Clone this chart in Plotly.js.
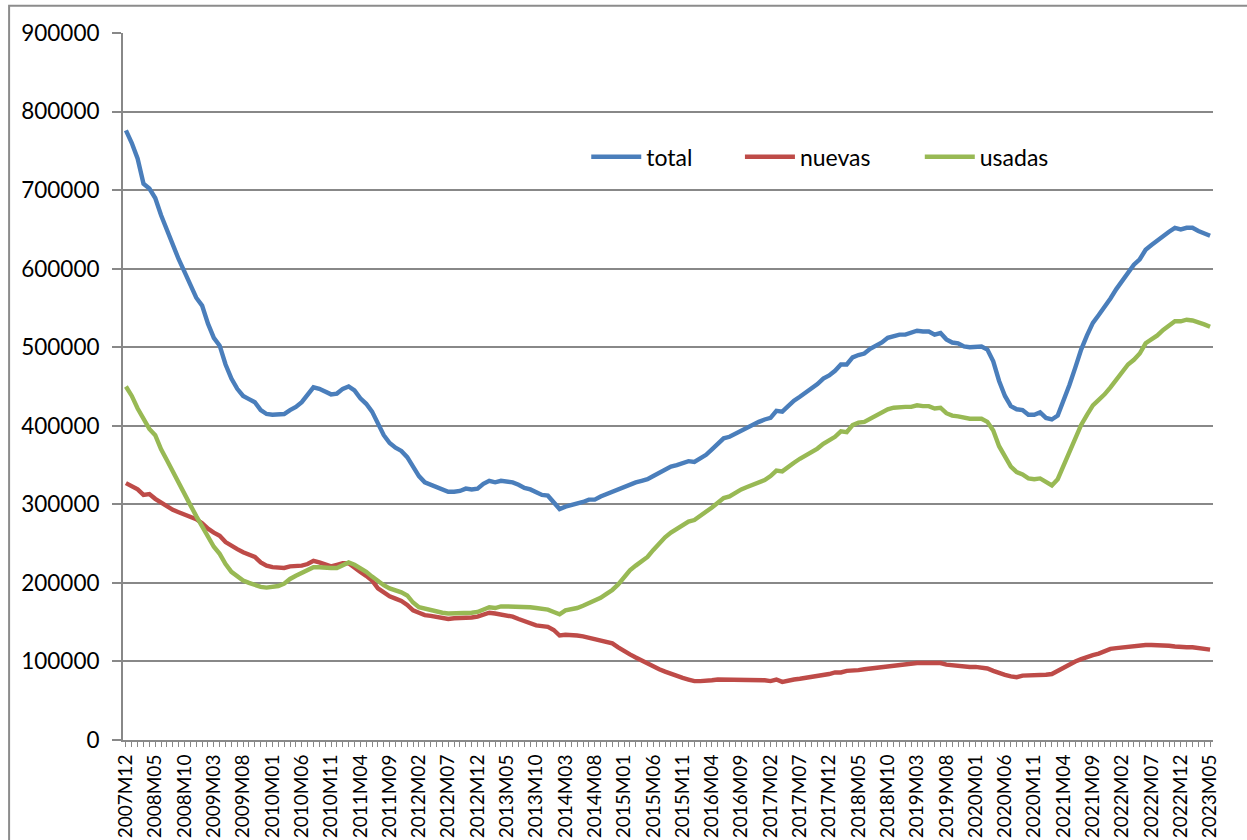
<!DOCTYPE html>
<html>
<head>
<meta charset="utf-8">
<script src="https://cdn.plot.ly/plotly-3.0.1.min.js"></script>
<style>
  html, body { margin: 0; padding: 0; background: #ffffff; }
  #chart { width: 1247px; height: 840px; }
</style>
</head>
<body>
<div id="chart"></div>
<script>
// Monthly categories 2007M12 .. 2023M05
const firstYear = 2007, firstMonth = 12, lastYear = 2023, lastMonth = 5;
const categories = [];
for (let y = firstYear, m = firstMonth; y < lastYear || (y === lastYear && m <= lastMonth); ) {
  categories.push(y + 'M' + (m < 10 ? '0' + m : '' + m));
  m++; if (m > 12) { m = 1; y++; }
}

const total = [
776000,760000,740000,708000,702000,690000,668000,648000,630000,612000,
596000,580000,563000,553000,530000,512000,502000,478000,460000,447000,
438000,434000,430000,420000,415000,414000,414000,415000,420000,424000,
430000,440000,449000,447000,443000,440000,441000,447000,450000,445000,
435000,428000,418000,403000,388000,378000,372000,368000,360000,348000,
336000,328000,325000,321000,318000,316000,316000,317000,320000,319000,
320000,326000,330000,328000,330000,329000,328000,325000,321000,319000,
316000,312000,311000,303000,294000,297000,299000,300000,303000,306000,
306000,310000,313000,316000,319000,322000,326000,328000,330000,332000,
336000,340000,345000,348000,350000,353000,355000,354000,358000,363000,
370000,377000,384000,386000,390000,394000,397000,401000,405000,408000,
410000,419000,418000,425000,432000,437000,442000,447000,453000,460000,
464000,470000,478000,478000,487000,490000,492000,498000,502000,506000,
512000,514000,516000,516000,518000,521000,520000,520000,516000,518000,
510000,506000,505000,501000,500000,500000,501000,497000,482000,457000,
438000,425000,421000,420000,414000,414000,417000,410000,408000,413000,
432000,452000,474000,497000,515000,531000,541000,551000,562000,574000,
585000,596000,605000,612000,624000,630000,636000,642000,647000,652000,
650000,652000,652000,648000,645000,642000
];

const nuevas = [
327000,323000,319000,312000,313000,307000,302000,298000,293000,290000,
287000,285000,281000,276000,269000,264000,260000,252000,247000,243000,
239000,236000,233000,226000,222000,220000,219000,219000,221000,221000,
222000,224000,228000,226000,223000,221000,223000,225000,225000,219000,
214000,209000,203000,193000,188000,183000,180000,177000,172000,165000,
162000,159000,158000,157000,155000,154000,155000,155000,156000,156000,
157000,160000,162000,161000,160000,159000,157000,154000,151000,149000,
146000,145000,144000,140000,133000,134000,134000,133000,132000,130000,
128000,127000,125000,123000,118000,113000,109000,105000,101000,97000,
93000,90000,87000,84000,81000,79000,77000,75000,75000,75000,
76000,77000,77000,76000,76000,76000,76000,76000,77000,76000,
75000,77000,74000,76000,77000,78000,79000,80000,82000,83000,
84000,86000,86000,88000,88000,89000,90000,91000,92000,93000,
94000,95000,96000,96000,97000,98000,98000,98000,97000,98000,
96000,95000,94000,94000,93000,93000,92000,91000,88000,85000,
83000,81000,80000,82000,82000,82000,83000,83000,84000,88000,
93000,97000,100000,103000,106000,108000,110000,113000,116000,117000,
118000,119000,120000,120000,121000,121000,121000,120000,120000,119000,
118000,118000,118000,117000,116000,115000
];

const usadas = [
450000,438000,422000,408000,396000,388000,370000,356000,341000,328000,
313000,299000,285000,272000,258000,246000,237000,224000,214000,208000,
203000,200000,197000,195000,194000,195000,196000,199000,205000,209000,
213000,216000,220000,220000,219000,219000,219000,223000,226000,223000,
219000,214000,208000,202000,197000,193000,191000,188000,184000,175000,
169000,167000,165000,163000,162000,161000,161000,162000,162000,162000,
163000,166000,169000,168000,170000,170000,170000,170000,170000,169000,
168000,167000,166000,163000,160000,165000,166000,168000,171000,174000,
177000,181000,186000,191000,198000,207000,216000,222000,228000,233000,
242000,251000,258000,264000,269000,274000,278000,280000,285000,290000,
296000,302000,308000,310000,315000,319000,322000,325000,329000,331000,
336000,343000,342000,348000,353000,358000,362000,366000,371000,377000,
381000,386000,393000,392000,401000,404000,405000,409000,413000,416000,
421000,423000,424000,424000,424000,426000,425000,425000,422000,423000,
416000,413000,412000,410000,409000,409000,409000,405000,394000,374000,
360000,348000,341000,338000,333000,332000,333000,328000,324000,332000,
349000,365000,385000,401000,414000,426000,433000,440000,449000,459000,
469000,478000,484000,492000,505000,510000,515000,522000,527000,533000,
533000,535000,534000,532000,529000,526000
];

const seriesNames = ['total', 'nuevas', 'usadas'];
const seriesColors = ['#4A7EBB', '#BE4B48', '#98B954'];
const legendIds = ['legend', 'legend2', 'legend3'];
const yTickVals = [0,100000,200000,300000,400000,500000,600000,700000,800000,900000];

// x tick labels: every 5th category, tick marks at every category
const xTickText = categories.map((c, i) => (i % 5 === 0 ? c : ''));

const FONT = 'Lato, "Open Sans", "Liberation Sans", sans-serif';
const GRID = '#888888';

const traces = [total, nuevas, usadas].map((vals, k) => ({
  type: 'scatter',
  mode: 'lines',
  name: seriesNames[k],
  legend: legendIds[k],
  x: categories,
  y: vals,
  line: { color: seriesColors[k], width: 4.4 },
  hoverinfo: 'x+y+name'
}));

function legendAt(xpos) {
  return {
    orientation: 'h',
    x: xpos, xanchor: 'left',
    y: 0.825, yanchor: 'middle',
    font: { family: FONT, size: 23, color: '#000000' },
    bgcolor: 'rgba(0,0,0,0)',
    itemwidth: 50
  };
}

const layout = {
  width: 1247,
  height: 840,
  margin: { l: 123, r: 34, t: 33, b: 100 },
  paper_bgcolor: '#ffffff',
  plot_bgcolor: '#ffffff',
  font: { family: FONT, color: '#000000', size: 19 },
  showlegend: true,
  legend: legendAt(0.425),
  legend2: legendAt(0.566),
  legend3: legendAt(0.731),
  xaxis: {
    type: 'category',
    range: [-0.5, categories.length - 0.5],
    tickmode: 'array',
    tickvals: categories,
    ticktext: xTickText,
    tickangle: -90,
    ticks: 'outside',
    ticklen: 5,
    tickwidth: 1,
    tickcolor: GRID,
    showline: true,
    linecolor: GRID,
    linewidth: 2,
    showgrid: false,
    zeroline: false,
    tickfont: { family: FONT, size: 19, color: '#000000' },
    fixedrange: true
  },
  yaxis: {
    range: [0, 900000],
    tickmode: 'array',
    tickvals: yTickVals,
    ticktext: yTickVals.map(v => String(v)),
    ticks: 'outside',
    ticklen: 9,
    tickwidth: 2,
    tickcolor: GRID,
    showline: true,
    linecolor: GRID,
    linewidth: 2,
    showgrid: true,
    gridcolor: GRID,
    gridwidth: 2,
    zeroline: false,
    ticklabelstandoff: 8,
    tickfont: { family: FONT, size: 22.5, color: '#000000' },
    fixedrange: true
  },
  shapes: [
    { type: 'rect', xref: 'paper', yref: 'paper',
      x0: -0.1045, x1: 1.2, y0: -0.3, y1: 1.0385,
      line: { color: '#8c8c8c', width: 2 }, fillcolor: 'rgba(0,0,0,0)', layer: 'below' }
  ]
};

Plotly.newPlot('chart', traces, layout, { displayModeBar: false, staticPlot: false });
</script>
</body>
</html>
